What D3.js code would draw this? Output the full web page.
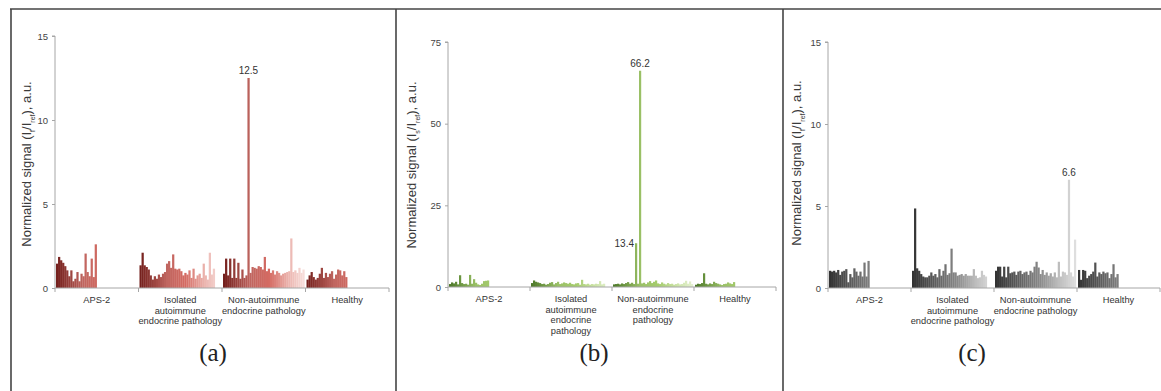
<!DOCTYPE html>
<html>
<head>
<meta charset="utf-8">
<script src="https://cdn.jsdelivr.net/npm/d3@7/dist/d3.min.js"></script>
<style>
  body { margin: 0; background: #fff; }
  svg { display: block; font-family: "Liberation Sans", Arial, sans-serif; }
</style>
</head>
<body>
<svg id="chart" width="1161" height="391"></svg>
<script>
// categories on the x axis
const categories = ['APS-2', 'Isolated', 'Non-autoimmune', 'Healthy'];
const catLinesWide = [['APS-2'], ['Isolated', 'autoimmune', 'endocrine pathology'], ['Non-autoimmune', 'endocrine pathology'], ['Healthy']];
const catLinesNarrow = [['APS-2'], ['Isolated', 'autoimmune', 'endocrine', 'pathology'], ['Non-autoimmune', 'endocrine', 'pathology'], ['Healthy']];

// panel (a) values, one bar per sample
const aAps = [1.45, 1.85, 1.65, 1.5, 1.3, 1.05, 0.7, 1.05, 0.4, 0.55, 0.95, 0.4, 0.85, 0.7, 2.05, 0.95, 0.7, 1.75, 0.65, 2.6];
const aIso = [1.35, 2.1, 1.35, 1.25, 1.1, 0.75, 0.5, 0.7, 0.55, 0.8, 0.65, 0.85, 0.95, 1.45, 1.6, 1.2, 2.0, 1.15, 1.1, 1.15, 1.0, 0.75, 0.9, 0.8, 1.05, 0.6, 1.15, 0.55, 0.75, 0.85, 0.6, 1.45, 0.75, 0.5, 2.1, 0.8, 1.15];
const aNon = [0.85, 1.75, 0.75, 1.75, 0.6, 1.75, 0.6, 1.5, 0.55, 1.1, 0.6, 0.75, 12.5, 0.9, 1.25, 1.2, 1.15, 1.3, 1.25, 1.1, 1.85, 1.0, 1.15, 0.9, 1.05, 0.8, 1.0, 0.9, 0.75, 0.85, 0.9, 0.95, 1.0, 2.95, 0.95, 1.05, 0.9, 1.2, 0.9, 1.1];
const aHea = [0.5, 0.75, 0.95, 0.65, 0.5, 0.6, 0.85, 1.2, 0.6, 0.9, 0.65, 0.85, 1.0, 0.55, 0.8, 1.1, 1.05, 0.75, 1.0, 0.65];

// panel (b)
const bAps = [0.9, 1.4, 1.1, 1.6, 0.8, 3.6, 1.2, 0.9, 1.0, 0.7, 3.7, 1.0, 2.4, 1.3, 0.8, 0.6, 1.0, 1.8, 1.9, 2.0];
const bIso = [1.2, 2.0, 1.6, 1.4, 1.2, 0.9, 1.0, 0.7, 0.9, 1.3, 1.5, 0.8, 1.2, 1.6, 0.9, 1.1, 1.4, 1.2, 1.0, 1.3, 0.9, 0.8, 1.1, 1.2, 0.7, 2.2, 0.9, 0.8, 1.0, 0.7, 0.9, 0.8, 1.0, 0.9, 1.8, 0.8, 1.0];
const bNon = [0.8, 0.9, 1.0, 0.8, 1.1, 0.9, 1.2, 1.5, 1.0, 1.3, 0.9, 13.4, 1.0, 66.2, 1.1, 1.3, 0.9, 1.4, 1.8, 1.2, 1.6, 2.0, 1.1, 0.9, 1.4, 1.0, 0.8, 1.2, 0.9, 1.0, 0.7, 0.9, 1.1, 0.8, 0.9, 1.3, 1.9, 1.0, 1.7, 0.9];
const bHea = [0.7, 1.0, 0.9, 1.2, 4.2, 1.0, 0.8, 1.1, 0.9, 1.6, 1.2, 1.0, 0.8, 0.6, 0.9, 1.0, 1.4, 1.1, 0.9, 1.5];

// panel (c)
const cAps = [1.05, 1.0, 1.05, 0.95, 1.1, 0.8, 1.0, 1.05, 1.15, 0.35, 0.85, 0.65, 1.2, 1.0, 0.75, 1.0, 0.7, 1.55, 0.7, 1.65];
const cIso = [1.05, 4.85, 1.2, 1.05, 0.85, 0.7, 0.65, 0.65, 0.75, 0.95, 0.75, 0.85, 0.65, 1.15, 0.75, 1.05, 1.45, 0.8, 0.9, 2.4, 0.95, 0.95, 0.75, 0.8, 0.85, 0.75, 0.85, 0.75, 0.75, 0.75, 1.15, 0.75, 0.6, 0.65, 1.05, 0.8, 0.7];
const cNon = [1.05, 1.3, 1.3, 0.7, 1.3, 0.65, 1.3, 0.9, 0.95, 1.0, 0.8, 1.0, 1.05, 0.85, 0.95, 1.0, 0.8, 1.05, 0.95, 1.3, 1.6, 1.25, 0.85, 1.1, 0.8, 0.95, 0.75, 0.9, 0.7, 0.95, 0.65, 1.6, 0.7, 1.0, 0.95, 0.8, 6.6, 0.95, 0.7, 2.95];
const cHea = [1.1, 0.5, 1.1, 1.05, 0.6, 0.75, 0.85, 1.0, 1.55, 0.7, 0.95, 0.85, 1.0, 0.9, 0.95, 0.6, 0.85, 1.45, 0.65, 0.85];

const yTicksSmall = [0, 5, 10, 15];
const yTicksLarge = [0, 25, 50, 75];

// colour ramps by sample index
const rampStops = [0, 13, 22, 31, 40];
const rampRed = ['#74201d', '#c06660', '#d46a62', '#eab0aa', '#f8e3e0'];
const rampGreen = ['#4e7a2a', '#9ac066', '#a5cc6c', '#cae2a4', '#e6f2d4'];
const rampGray = ['#333333', '#666666', '#8a8a8a', '#bdbdbd', '#e2e2e2'];

const svg = d3.select('#chart');
const slots = d3.range(41);

function drawPanel(p) {
  const g = svg.append('g');

  const x = d3.scaleBand().domain(categories).range([p.x0, p.x1]).paddingInner(0).paddingOuter(0);
  const xi = d3.scaleBand().domain(slots).range([0, x.bandwidth()]).padding(0);
  const y = d3.scaleLinear().domain([0, p.max]).range([p.y0, p.yTop]);
  const color = d3.scaleLinear().domain(rampStops).range(p.ramp);

  // bars
  p.series.forEach((vals, ci) => {
    g.append('g').selectAll('rect')
      .data(vals)
      .enter().append('rect')
      .attr('x', (d, i) => x(categories[ci]) + 1 + xi(i))
      .attr('y', d => y(d))
      .attr('width', xi.bandwidth() + 0.2)
      .attr('height', d => y(0) - y(d))
      .attr('fill', (d, i) => color(i));
  });

  // y axis
  const yAxis = g.append('g')
    .attr('transform', `translate(${p.x0},0)`)
    .call(d3.axisLeft(y).tickValues(p.ticks).tickSize(3).tickPadding(4));
  yAxis.select('.domain').attr('stroke', '#a6a6a6').attr('d', `M-3,${y(p.max)}H0V${y(0)}`);
  yAxis.selectAll('.tick line').attr('stroke', '#a6a6a6');
  yAxis.selectAll('.tick text').attr('fill', '#444').style('font-size', '9.5px').style('font-family', '"Liberation Sans", Arial, sans-serif');

  // x axis: ticks at category boundaries
  const xAxis = g.append('g').attr('transform', `translate(0,${p.y0})`);
  xAxis.append('line').attr('x1', p.x0).attr('x2', p.x1).attr('stroke', '#a6a6a6');
  xAxis.selectAll('.bt')
    .data(categories.concat(['end']))
    .enter().append('line')
    .attr('x1', d => d === 'end' ? p.x1 : x(d))
    .attr('x2', d => d === 'end' ? p.x1 : x(d))
    .attr('y1', 0).attr('y2', 4)
    .attr('stroke', '#a6a6a6');

  categories.forEach((c, ci) => {
    const t = xAxis.append('text')
      .attr('x', x(c) + x.bandwidth() / 2)
      .attr('y', 15)
      .attr('text-anchor', 'middle')
      .attr('fill', '#333')
      .style('font-size', '9.3px');
    p.catLines[ci].forEach((line, li) => {
      t.append('tspan').attr('x', x(c) + x.bandwidth() / 2).attr('dy', li === 0 ? 0 : 10.5).text(line);
    });
  });

  // y title
  const title = g.append('text')
    .attr('transform', `translate(${p.titleX},${p.titleY}) rotate(-90)`)
    .attr('text-anchor', 'middle')
    .attr('fill', '#3a3a3a')
    .style('font-size', '13px');
  title.append('tspan').text('Normalized signal (I');
  title.append('tspan').attr('baseline-shift', 'sub').style('font-size', '7px').text(p.sub);
  title.append('tspan').text('/I');
  title.append('tspan').attr('baseline-shift', 'sub').style('font-size', '7px').text('ref');
  title.append('tspan').text('), a.u.');

  // value labels on the peaks
  p.notes.forEach(n => {
    const vals = p.series[n.cat];
    const bx = x(categories[n.cat]) + 1 + xi(n.idx);
    g.append('text')
      .attr('x', n.side === 'left' ? bx - 1 : bx + xi.bandwidth() / 2)
      .attr('y', n.side === 'left' ? y(vals[n.idx]) + 4 : y(vals[n.idx]) - 4)
      .attr('text-anchor', n.side === 'left' ? 'end' : 'middle')
      .attr('fill', '#333')
      .style('font-size', '10px')
      .text(vals[n.idx]);
  });

  // panel letter
  svg.append('text')
    .attr('x', p.letterX).attr('y', 361)
    .attr('text-anchor', 'middle')
    .attr('fill', '#222')
    .style('font-family', '"Liberation Serif", "DejaVu Serif", serif')
    .style('font-size', '25px')
    .text(p.letter);
}

drawPanel({
  series: [aAps, aIso, aNon, aHea], ramp: rampRed, max: 15, ticks: yTicksSmall,
  x0: 55, x1: 389, y0: 288, yTop: 36, catLines: catLinesWide,
  titleX: 31, titleY: 164, sub: 'f', letter: '(a)', letterX: 213,
  notes: [{ cat: 2, idx: 12, side: 'top' }]
});
drawPanel({
  series: [bAps, bIso, bNon, bHea], ramp: rampGreen, max: 75, ticks: yTicksLarge,
  x0: 448, x1: 776, y0: 287, yTop: 42, catLines: catLinesNarrow,
  titleX: 416, titleY: 165, sub: 's', letter: '(b)', letterX: 594,
  notes: [{ cat: 2, idx: 13, side: 'top' }, { cat: 2, idx: 11, side: 'left' }]
});
drawPanel({
  series: [cAps, cIso, cNon, cHea], ramp: rampGray, max: 15, ticks: yTicksSmall,
  x0: 828, x1: 1160, y0: 288, yTop: 42, catLines: catLinesWide,
  titleX: 801, titleY: 163, sub: 'f', letter: '(c)', letterX: 972,
  notes: [{ cat: 2, idx: 36, side: 'top' }]
});

// frame lines
const frame = svg.append('g').attr('stroke', '#444').attr('stroke-width', 1.6);
frame.append('line').attr('x1', 10).attr('x2', 1161).attr('y1', 9).attr('y2', 9);
frame.append('line').attr('x1', 11).attr('x2', 11).attr('y1', 9).attr('y2', 391);
frame.append('line').attr('x1', 396).attr('x2', 396).attr('y1', 9).attr('y2', 391);
frame.append('line').attr('x1', 783).attr('x2', 783).attr('y1', 9).attr('y2', 391);
</script>
</body>
</html>
